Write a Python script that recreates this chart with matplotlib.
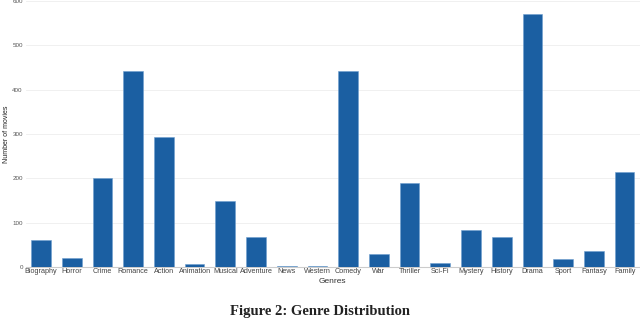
import matplotlib
matplotlib.use("Agg")
import matplotlib.pyplot as plt
import numpy as np

genres = ['Biography', 'Horror', 'Crime', 'Romance', 'Action', 'Animation', 'Musical',
          'Adventure', 'News', 'Western', 'Comedy', 'War', 'Thriller', 'Sci-Fi', 'Mystery',
          'History', 'Drama', 'Sport', 'Fantasy', 'Family']
counts = [61, 21, 201, 443, 294, 6, 149, 68, 1, 1, 443, 30, 190, 8, 84, 68, 570, 18, 35, 215]

plt.rcParams['font.family'] = ['Liberation Sans', 'DejaVu Sans']

fig = plt.figure(figsize=(6.4, 3.2), dpi=100)
ax = fig.add_axes([0.04, 0.166, 0.96, 0.831])

x = np.arange(len(genres))
ax.bar(x, counts, width=0.64, color='#1b5fa2', edgecolor='#6f9fcf', linewidth=0.4, zorder=3)

ax.set_xlim(-0.5, len(genres) - 0.5)
ax.set_ylim(0, 600)
ax.set_yticks(range(0, 601, 100))
ax.grid(axis='y', color='#eeeeee', linewidth=0.6, zorder=0)

for s in ['top', 'right', 'left']:
    ax.spines[s].set_visible(False)
ax.spines['bottom'].set_color('#cccccc')
ax.spines['bottom'].set_linewidth(0.8)

ax.set_xticks(x)
ax.set_xticklabels(genres, fontsize=5.2, color='#444444')
ax.tick_params(axis='x', length=0, pad=1)
ax.tick_params(axis='y', length=0, pad=2, labelsize=4.5, labelcolor='#555555')

ax.set_xlabel('Genres', fontsize=6, color='#333333', labelpad=2)
ax.set_ylabel('Number of movies', fontsize=5, color='#222222', labelpad=2)

fig.text(0.5, 0.027, 'Figure 2: Genre Distribution', ha='center', va='center',
         fontsize=10.5, fontweight='bold', family='Liberation Serif', color='#222222')

fig.savefig('out.png', dpi=100)
